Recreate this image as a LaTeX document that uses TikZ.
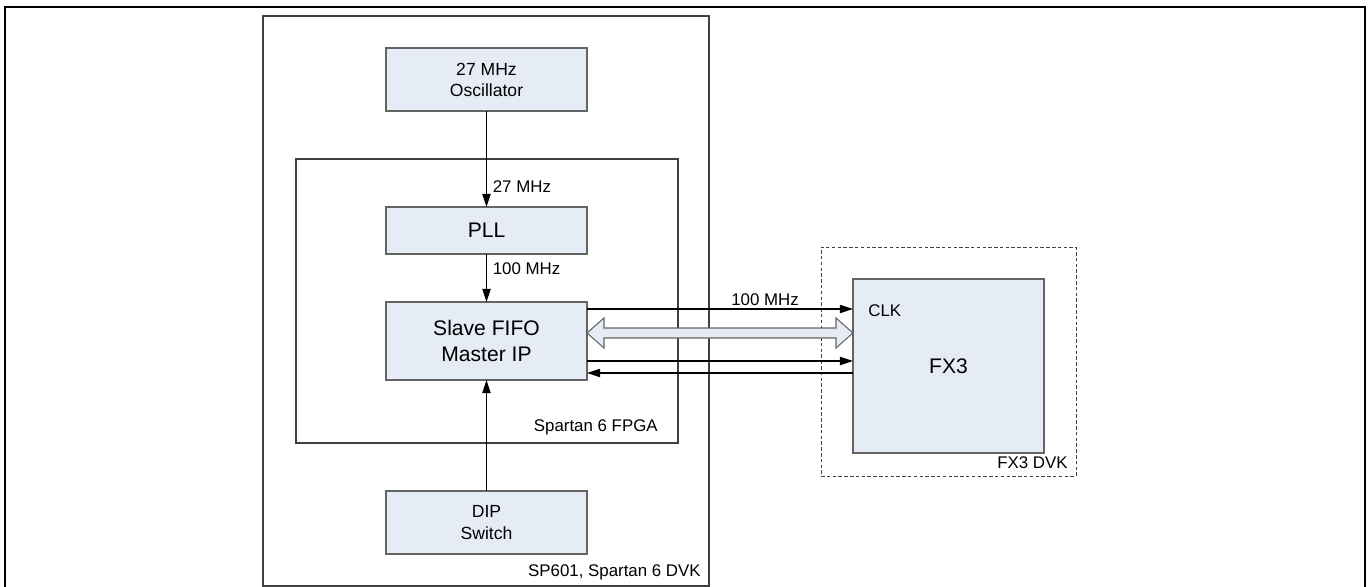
\documentclass[tikz,border=0pt]{standalone}
\usepackage{fontspec}
\setmainfont{Liberation Sans}
\usetikzlibrary{arrows.meta,calc}
\definecolor{boxfill}{RGB}{230,236,246}
\definecolor{boxline}{RGB}{100,100,100}
\begin{document}
\begin{tikzpicture}[x=0.02cm,y=-0.02cm,
    block/.style={draw=boxline,fill=boxfill,line width=0.6pt,inner sep=0pt,outer sep=0pt,
      minimum width=201*0.02cm,align=center,font=\fontsize{10}{12}\selectfont},
    frame/.style={draw=black!75,line width=0.6pt,inner sep=0pt,outer sep=0pt},
    sig/.style={line width=0.6pt,-{Triangle[length=7.5pt,width=4.8pt]}},
    bus/.style={draw=boxline,fill=boxfill,line width=0.6pt,line join=miter},
    lbl/.style={font=\fontsize{9.6}{11}\selectfont,inner sep=0pt}]
  \useasboundingbox (0,0) rectangle (1368,587);
  {\fontsize{9.6}{11}\selectfont

  % Outer border
  \draw [line width=1.1pt] (5,587) -- (5,7) -- (1365,7) -- (1365,587);%

  % Board and FPGA frames
  \node [frame,minimum width=446*0.02cm,minimum height=570*0.02cm] (sp601) at (486,301) {};%
  \node [frame,minimum width=382*0.02cm,minimum height=284*0.02cm] (fpga) at (487,301) {};%
  \node [frame,line width=0.5pt,dash pattern=on 2pt off 1.3pt,minimum width=255*0.02cm,minimum height=229*0.02cm] (fx3dvk) at (948.5,361.5) {};%

  % Blocks
  \node [block,minimum height=63*0.02cm] (osc) at (486.5,79.5) {27 MHz\\Oscillator};%
  \node [block,minimum height=47*0.02cm,font=\fontsize{12}{14}\selectfont] (pll) at (486.5,230.5) {PLL};%
  \node [block,minimum height=78*0.02cm,font=\fontsize{12}{14.5}\selectfont] (fifo) at (486.5,341) {Slave FIFO\\Master IP};%
  \node [block,minimum height=63*0.02cm] (dip) at (486.5,522.5) {DIP\\Switch};%
  \node [block,minimum width=191*0.02cm,minimum height=174*0.02cm,font=\fontsize{12}{14}\selectfont] (fx3) at (948.5,366) {FX3};%

  % Frame labels
  \node [lbl,anchor=east] (fpgalbl) at ($(fpga.south east)+(-20,-16)$) {Spartan 6 FPGA};%
  \node [lbl,anchor=east] (sp601lbl) at ($(sp601.south east)+(-8,-14)$) {SP601, Spartan 6 DVK};%
  \node [lbl,anchor=east] (fx3dvklbl) at ($(fx3dvk.south east)+(-8,-13)$) {FX3 DVK};%
  \node [lbl,anchor=west] (clk) at ($(fx3.north west)+(15,32)$) {CLK};%

  % Clock path
  \draw [sig] (osc) -- (pll);%
  \node [lbl,anchor=west] (f27) at ($(pll.north)+(6,-20)$) {27 MHz};%
  \draw [sig] (pll) -- (fifo);%
  \node [lbl,anchor=west] (f100) at ($(pll.south)+(6,15)$) {100 MHz};%
  \draw [sig] (dip) -- (fifo);%

  % Links to FX3
  \draw [sig] (fifo.east |- 0,309) -- (fx3.west |- 0,309);%
  \node [lbl,anchor=south] (fclk) at (765,306) {100 MHz};%
  \coordinate (busL) at (fifo.east |- 0,333);
  \coordinate (busR) at (fx3.west |- 0,333);
  \draw [bus] (busL) -- ++(17,-15) -- ++(0,10) -- ($(busR)+(-17,-5)$) -- ++(0,-10)
    -- (busR) -- ++(-17,15) -- ++(0,-10) -- ($(busL)+(17,5)$) -- ++(0,10) -- cycle;%
  \draw [sig] (fifo.east |- 0,361) -- (fx3.west |- 0,361);%
  \draw [sig] (fx3.west |- 0,373) -- (fifo.east |- 0,373);%
  }
\end{tikzpicture}
\end{document}
